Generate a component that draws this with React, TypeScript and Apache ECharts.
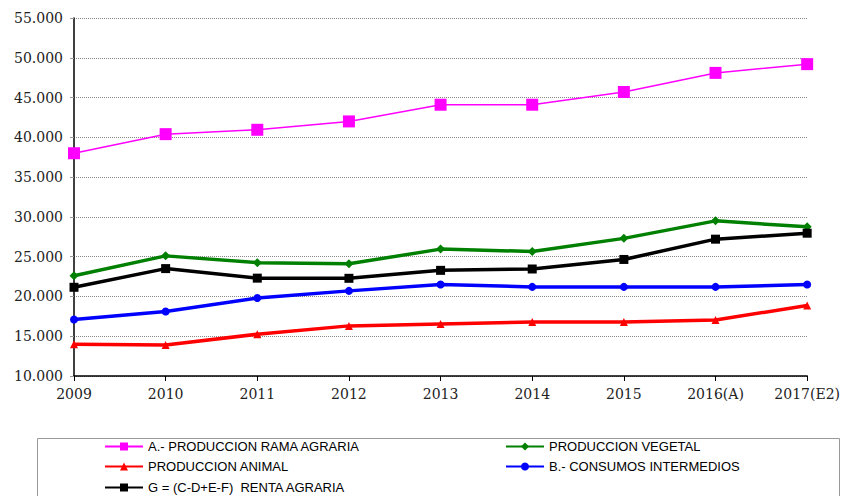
import React, { useEffect, useRef } from "react";
import * as echarts from "echarts";

const categories = ["2009", "2010", "2011", "2012", "2013", "2014", "2015", "2016(A)", "2017(E2)"];
const produccionRama = [38000, 40400, 40950, 42000, 44100, 44100, 45700, 48100, 49200];
const produccionVegetal = [22600, 25100, 24250, 24100, 25950, 25650, 27300, 29500, 28750];
const produccionAnimal = [14000, 13900, 15250, 16300, 16550, 16800, 16800, 17050, 18850];
const consumosIntermedios = [17100, 18100, 19800, 20700, 21500, 21200, 21200, 21200, 21500];
const rentaAgraria = [21150, 23500, 22300, 22280, 23280, 23450, 24650, 27200, 27950];

const names = [
  "A.- PRODUCCION RAMA AGRARIA",
  "PRODUCCION VEGETAL",
  "PRODUCCION ANIMAL",
  "B.- CONSUMOS INTERMEDIOS",
  "G = (C-D+E-F)  RENTA AGRARIA",
];

const fmt = (v: number) => {
  const s = Math.round(v).toString();
  return s.replace(/\B(?=(\d{3})+(?!\d))/g, ".");
};

export default function App() {
  const ref = useRef<HTMLDivElement>(null);
  useEffect(() => {
    if (!ref.current) return;
    const chart = echarts.init(ref.current, undefined, { renderer: "svg" });
    const legendPos = [
      { left: 104, top: 440 },
      { left: 505, top: 440 },
      { left: 104, top: 460 },
      { left: 505, top: 460 },
      { left: 104, top: 481 },
    ];
    const legendFont = {
      fontFamily: "Liberation Sans Narrow, Arial Narrow, sans-serif",
      fontSize: 13,
      color: "#000",
    };
    const axisFont = {
      color: "#222",
      fontFamily: "DejaVu Serif, Liberation Serif, serif",
      fontSize: 14,
    };
    chart.setOption({
      animation: false,
      backgroundColor: "#fff",
      grid: { left: 74, right: 31, top: 18, bottom: 120 },
      xAxis: {
        type: "category",
        data: categories,
        boundaryGap: false,
        axisLine: { lineStyle: { color: "#000", width: 1.5 } },
        axisTick: { show: true, length: 5, lineStyle: { color: "#000" } },
        axisLabel: { margin: 11, ...axisFont },
        splitLine: { show: false },
      },
      yAxis: {
        type: "value",
        min: 10000,
        max: 55000,
        interval: 5000,
        axisLine: { show: true, lineStyle: { color: "#000", width: 1.5 } },
        axisTick: { show: true, length: 4, lineStyle: { color: "#999" } },
        axisLabel: { margin: 11, ...axisFont, formatter: (v: number) => fmt(v) },
        splitLine: { show: true, lineStyle: { color: "#888", type: "dotted", width: 1 } },
      },
      legend: names.map((n, i) => ({
        data: [n],
        left: legendPos[i].left,
        top: legendPos[i].top,
        itemWidth: 38,
        itemHeight: 10,
        textStyle: legendFont,
        padding: 0,
        itemGap: 2,
      })),
      graphic: [
        {
          type: "rect",
          shape: { x: 37.5, y: 438.5, width: 802, height: 70 },
          style: { fill: "none", stroke: "#999", lineWidth: 1 },
          z: -1,
        },
      ],
      series: [
        {
          name: names[0],
          type: "line",
          data: produccionRama,
          color: "#ff00ff",
          lineStyle: { width: 1.5, color: "#ff00ff" },
          symbol: "rect",
          symbolSize: 12,
          itemStyle: { color: "#ff00ff" },
          z: 5,
        },
        {
          name: names[1],
          type: "line",
          data: produccionVegetal,
          color: "#008000",
          lineStyle: { width: 3.5, color: "#008000" },
          symbol: "diamond",
          symbolSize: 9,
          itemStyle: { color: "#008000" },
        },
        {
          name: names[2],
          type: "line",
          data: produccionAnimal,
          color: "#ff0000",
          lineStyle: { width: 3.5, color: "#ff0000" },
          symbol: "triangle",
          symbolSize: 8,
          itemStyle: { color: "#ff0000" },
        },
        {
          name: names[3],
          type: "line",
          data: consumosIntermedios,
          color: "#0000ff",
          lineStyle: { width: 3.5, color: "#0000ff" },
          symbol: "circle",
          symbolSize: 8,
          itemStyle: { color: "#0000ff" },
        },
        {
          name: names[4],
          type: "line",
          data: rentaAgraria,
          color: "#000",
          lineStyle: { width: 3.5, color: "#000" },
          symbol: "rect",
          symbolSize: 9,
          itemStyle: { color: "#000" },
        },
      ],
    });
    return () => chart.dispose();
  }, []);
  return <div ref={ref} style={{ width: 843, height: 496, position: "absolute", left: 0, top: 0 }} />;
}
